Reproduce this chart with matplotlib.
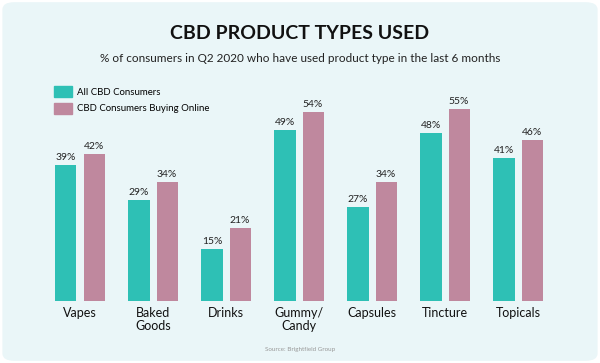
import numpy as np
import matplotlib
matplotlib.use('Agg')
import matplotlib.pyplot as plt
from matplotlib.patches import FancyBboxPatch, Patch

# data
categories = ['Vapes', 'Baked\nGoods', 'Drinks', 'Gummy/\nCandy', 'Capsules', 'Tincture', 'Topicals']
all_cbd = [39, 29, 15, 49, 27, 48, 41]
online = [42, 34, 21, 54, 34, 55, 46]
series_names = ['All CBD Consumers', 'CBD Consumers Buying Online']

teal = '#2EC0B5'
pink = '#BF889E'
bg = '#EAF6F8'

plt.rcParams['font.family'] = ['Lato', 'DejaVu Sans']

fig = plt.figure(figsize=(6, 3.63), dpi=100)
fig.patch.set_facecolor('white')
fig.patches.append(FancyBboxPatch((0.004, 0.006), 0.992, 0.988,
                                  boxstyle='round,pad=0,rounding_size=0.02',
                                  transform=fig.transFigure, fc=bg, ec='none', zorder=-10))

ax = fig.add_axes([0.0725, 0.1708, 0.8517, 0.5785])
ax.set_facecolor('none')
x = np.arange(len(categories))
w = 0.288
off = 0.192
b1 = ax.bar(x - off, all_cbd, w, color=teal, label=series_names[0])
b2 = ax.bar(x + off, online, w, color=pink, label=series_names[1])

for bars, vals in ((b1, all_cbd), (b2, online)):
    for r, v in zip(bars, vals):
        ax.annotate('%d%%' % v, (r.get_x() + r.get_width() / 2, v),
                    xytext=(0, 2), textcoords='offset points',
                    ha='center', va='bottom', fontsize=7.5, color='#222222')

ax.set_xlim(-0.5, 6.5)
ax.set_ylim(0, 60)
ax.set_xticks(x)
ax.set_xticklabels(categories, fontsize=9, color='#111111', linespacing=1.1)
ax.tick_params(axis='x', length=0, pad=4)
ax.set_yticks([])
for s in ax.spines.values():
    s.set_visible(False)

fig.text(0.5, 0.908, 'CBD PRODUCT TYPES USED', ha='center', va='center',
         fontsize=14, fontweight='bold', color='#111111')
fig.text(0.5, 0.838, '% of consumers in Q2 2020 who have used product type in the last 6 months',
         ha='center', va='center', fontsize=8.5, color='#222222')

handles = [Patch(color=teal), Patch(color=pink)]
fig.legend(handles, series_names, loc='upper left', bbox_to_anchor=(0.09, 0.762),
           frameon=False, fontsize=6.9, handlelength=1.9, handleheight=1.4,
           handletextpad=0.55, labelspacing=0.55, borderaxespad=0, borderpad=0)

fig.text(0.5, 0.038, 'Source: Brightfield Group', ha='center', va='center',
         fontsize=4.5, color='#999999')

fig.savefig('out.png', dpi=100, facecolor=fig.get_facecolor())
